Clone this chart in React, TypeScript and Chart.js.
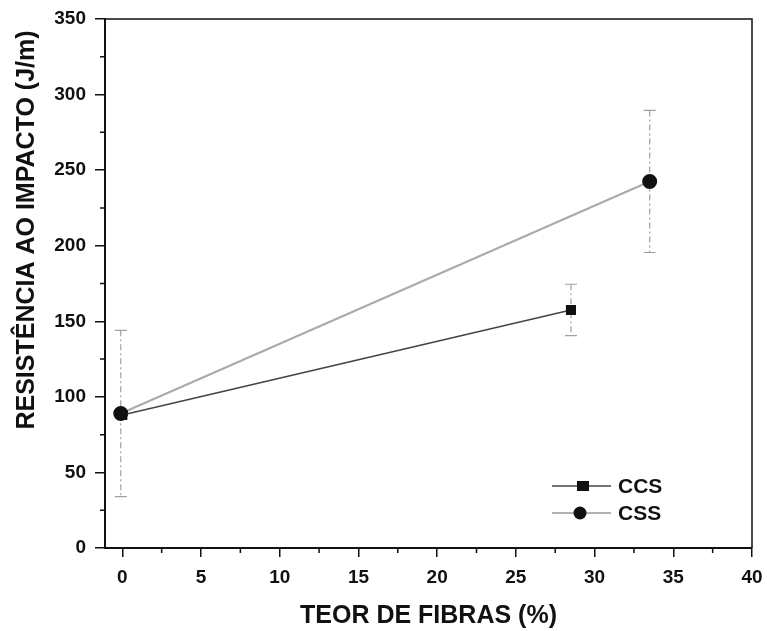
import React, { useEffect, useRef } from "react";
import { Chart, registerables } from "chart.js";

Chart.register(...registerables);

const seriesNames = ["CCS", "CSS"];
const ccsX = [0, 28.5];
const ccsY = [88, 157.5];
const ccsErr = [0, 17];
const cssX = [-0.1, 33.5];
const cssY = [89, 242.5];
const cssErr = [55, 47];
const xTicks = [0, 5, 10, 15, 20, 25, 30, 35, 40];
const yTicks = [0, 50, 100, 150, 200, 250, 300, 350];
const xTitle = "TEOR DE FIBRAS (%)";
const yTitle = "RESISTÊNCIA AO IMPACTO (J/m)";

const FONT = "'Liberation Sans', Arial, sans-serif";

const errorBarPlugin = {
  id: "errorBars",
  beforeDatasetsDraw(chart: any) {
    const ctx = chart.ctx;
    const xs = chart.scales.x;
    const ys = chart.scales.y;
    const sets = [
      { x: ccsX, y: ccsY, e: ccsErr },
      { x: cssX, y: cssY, e: cssErr },
    ];
    ctx.save();
    ctx.strokeStyle = "#a0a0a0";
    ctx.lineWidth = 1.2;
    sets.forEach((s) => {
      s.x.forEach((xv, i) => {
        const err = s.e[i];
        if (!err) return;
        const px = xs.getPixelForValue(xv);
        const top = ys.getPixelForValue(s.y[i] + err);
        const bot = ys.getPixelForValue(s.y[i] - err);
        ctx.setLineDash([6, 3, 2, 3]);
        ctx.beginPath();
        ctx.moveTo(px, top);
        ctx.lineTo(px, bot);
        ctx.stroke();
        ctx.setLineDash([]);
        ctx.beginPath();
        ctx.moveTo(px - 6, top);
        ctx.lineTo(px + 6, top);
        ctx.moveTo(px - 6, bot);
        ctx.lineTo(px + 6, bot);
        ctx.stroke();
      });
    });
    ctx.restore();
  },
};

const framePlugin = {
  id: "frame",
  afterDraw(chart: any) {
    const ctx = chart.ctx;
    const a = chart.chartArea;
    const xs = chart.scales.x;
    const ys = chart.scales.y;
    ctx.save();
    ctx.strokeStyle = "#111";
    ctx.lineWidth = 1.5;
    ctx.beginPath();
    ctx.moveTo(a.left, a.top);
    ctx.lineTo(a.right, a.top);
    ctx.lineTo(a.right, a.bottom);
    ctx.stroke();
    // minor ticks
    ctx.beginPath();
    for (let v = 2.5; v < 40; v += 5) {
      const px = xs.getPixelForValue(v);
      ctx.moveTo(px, a.bottom);
      ctx.lineTo(px, a.bottom + 5);
    }
    for (let v = 25; v < 350; v += 50) {
      const py = ys.getPixelForValue(v);
      ctx.moveTo(a.left, py);
      ctx.lineTo(a.left - 5, py);
    }
    ctx.stroke();

    // y title
    ctx.save();
    ctx.translate(27, 230);
    ctx.rotate(-Math.PI / 2);
    ctx.font = `bold 25px ${FONT}`;
    ctx.fillStyle = "#111";
    ctx.textAlign = "center";
    ctx.textBaseline = "middle";
    ctx.fillText(yTitle, 0, 0);
    ctx.restore();

    // legend
    const rows = [
      { name: seriesNames[0], y: 486, color: "#444", square: true },
      { name: seriesNames[1], y: 513, color: "#999", square: false },
    ];
    rows.forEach((r) => {
      ctx.strokeStyle = r.color;
      ctx.lineWidth = 1.6;
      ctx.beginPath();
      ctx.moveTo(552, r.y);
      ctx.lineTo(611, r.y);
      ctx.stroke();
      ctx.fillStyle = "#111";
      if (r.square) {
        ctx.fillRect(577, r.y - 5, 12, 10);
      } else {
        ctx.beginPath();
        ctx.arc(580, r.y, 6.5, 0, Math.PI * 2);
        ctx.fill();
      }
      ctx.font = `bold 21px ${FONT}`;
      ctx.textBaseline = "middle";
      ctx.textAlign = "left";
      ctx.fillText(r.name, 618, r.y + 1);
    });
    ctx.restore();
  },
};

export default function App() {
  const ref = useRef<HTMLCanvasElement>(null);
  useEffect(() => {
    document.body.style.margin = "0";
    const canvas = ref.current!;
    const chart = new Chart(canvas, {
      type: "scatter",
      data: {
        datasets: [
          {
            label: seriesNames[0],
            data: ccsX.map((x, i) => ({ x, y: ccsY[i] })),
            showLine: true,
            borderColor: "#444",
            borderWidth: 1.6,
            pointStyle: "rect",
            pointRadius: 6,
            pointBackgroundColor: "#111",
            pointBorderColor: "#111",
          },
          {
            label: seriesNames[1],
            data: cssX.map((x, i) => ({ x, y: cssY[i] })),
            showLine: true,
            borderColor: "#aaa",
            borderWidth: 2,
            pointStyle: "circle",
            pointRadius: 6.5,
            pointBackgroundColor: "#111",
            pointBorderColor: "#111",
          },
        ],
      },
      options: {
        animation: false,
        responsive: false,
        events: [],
        layout: { padding: { top: 19, right: 15, left: 0, bottom: 0 } },
        plugins: { legend: { display: false }, tooltip: { enabled: false } },
        scales: {
          x: {
            type: "linear",
            min: -1.1,
            max: 40,
            afterBuildTicks: (s: any) => {
              s.ticks = xTicks.map((v) => ({ value: v }));
            },
            afterFit: (s: any) => {
              s.height = 83;
              s.paddingLeft = 0;
              s.paddingRight = 0;
            },
            grid: { drawOnChartArea: false, tickLength: 9, color: "#111", lineWidth: 1.5 },
            border: { color: "#111", width: 2 },
            ticks: {
              color: "#111",
              font: { family: FONT, size: 19, weight: "bold" },
              padding: 9,
              maxRotation: 0,
            },
            title: {
              display: true,
              text: xTitle,
              color: "#111",
              font: { family: FONT, size: 25, weight: "bold" },
              padding: { top: 2, bottom: 0 },
            },
          },
          y: {
            min: 0,
            max: 350,
            afterBuildTicks: (s: any) => {
              s.ticks = yTicks.map((v) => ({ value: v }));
            },
            afterFit: (s: any) => {
              s.width = 105;
              s.paddingTop = 0;
              s.paddingBottom = 0;
            },
            grid: { drawOnChartArea: false, tickLength: 10, color: "#111", lineWidth: 1.5 },
            border: { color: "#111", width: 2 },
            ticks: {
              color: "#111",
              font: { family: FONT, size: 19, weight: "bold" },
              padding: 9,
            },
            title: { display: false },
          },
        },
      },
      plugins: [errorBarPlugin, framePlugin],
    } as any);
    return () => chart.destroy();
  }, []);
  return (
    <div style={{ width: 767, height: 631, background: "#fff" }}>
      <canvas ref={ref} width={767} height={631} style={{ display: "block" }} />
    </div>
  );
}
